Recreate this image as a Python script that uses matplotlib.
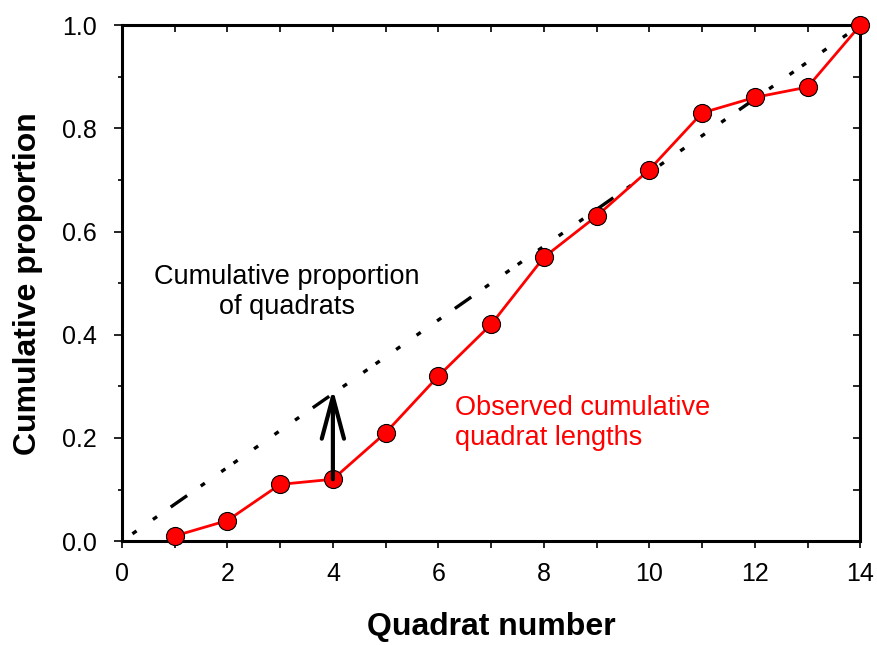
import numpy as np
import matplotlib.pyplot as plt
from matplotlib.ticker import MultipleLocator

plt.rcParams["font.family"] = ["Liberation Sans", "DejaVu Sans"]

# observed cumulative quadrat lengths
quadrat = [1, 2, 3, 4, 5, 6, 7, 8, 9, 10, 11, 12, 13, 14]
observed = [0.01, 0.04, 0.11, 0.12, 0.21, 0.32, 0.42, 0.55, 0.63, 0.72, 0.83, 0.86, 0.88, 1.0]
# expected cumulative proportion of quadrats
expected_x = [0.2, 14]
expected_y = [0.2 / 14, 1.0]

fig = plt.figure(figsize=(8.77, 6.45), dpi=100)
ax = fig.add_axes([0.139, 0.161, 0.842, 0.8])

ax.plot(expected_x, expected_y, color="black", lw=2.4,
        linestyle=(0, (1.5, 6, 1.5, 5, 6, 5, 1.5, 6, 1.5, 3, 1.5, 6, 1.5, 6)))
ax.plot(quadrat, observed, color="red", lw=2, marker="o", ms=13,
        markerfacecolor="red", markeredgecolor="black", markeredgewidth=0.8,
        clip_on=False, zorder=3)

ax.annotate("", xy=(4, 0.295), xytext=(4, 0.12),
            arrowprops=dict(arrowstyle="->,head_length=0.75,head_width=0.2",
                            lw=3, color="black", mutation_scale=40,
                            shrinkA=0, shrinkB=0))

ax.text(3.13, 0.483, "Cumulative proportion\nof quadrats", ha="center",
        va="center", fontsize=19.5, linespacing=1.2)
ax.text(6.32, 0.229, "Observed cumulative\nquadrat lengths", ha="left",
        va="center", fontsize=19.5, color="red", linespacing=1.2)

ax.set_xlim(0, 14)
ax.set_ylim(0, 1)
ax.xaxis.set_major_locator(MultipleLocator(2))
ax.xaxis.set_minor_locator(MultipleLocator(1))
ax.yaxis.set_major_locator(MultipleLocator(0.2))
ax.yaxis.set_minor_locator(MultipleLocator(0.1))
ax.yaxis.set_major_formatter(plt.FuncFormatter(lambda v, p: f"{v:.1f}"))
ax.tick_params(which="both", direction="out", width=1.2, labelsize=18)
ax.tick_params(axis="x", which="major", length=5, pad=10)
ax.tick_params(axis="x", which="minor", length=5)
ax.tick_params(axis="y", which="major", length=6, pad=12)
ax.tick_params(axis="y", which="minor", length=3)
for s in ax.spines.values():
    s.set_linewidth(2.2)

# inward ticks on the top and right edges
top = ax.secondary_xaxis("top")
top.set_xticks(range(0, 15))
top.tick_params(direction="in", length=5, width=1.2, labeltop=False)
right = ax.secondary_yaxis("right")
right.set_yticks(np.arange(0, 1.01, 0.1))
right.tick_params(direction="in", length=5, width=1.2, labelright=False)

ax.set_xlabel("Quadrat number", fontsize=23, fontweight="bold", labelpad=19)
ax.set_ylabel("Cumulative proportion", fontsize=23, fontweight="bold", labelpad=14)

fig.savefig("out.png", dpi=100)
